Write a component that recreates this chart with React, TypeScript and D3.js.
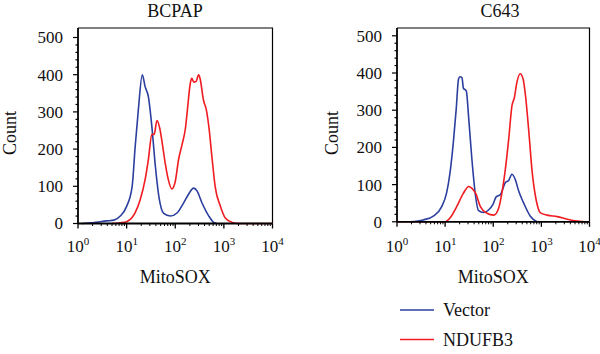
import React, { useEffect, useRef } from 'react';
import * as d3 from 'd3';

// MitoSOX intensity vs cell count
const bcpapVector: [number, number][] = [
  [1.2, 0], [2, 2], [3.9, 7], [5.5, 9], [7.4, 20], [10, 46], [13, 100], [15, 207], [17.4, 305],
  [21, 400], [24, 368], [28, 341], [33, 261], [39, 154], [46, 73], [58, 27], [79, 20],
  [110, 29], [148, 55], [186, 78], [240, 95], [282, 87], [355, 55], [490, 20], [617, 3], [710, 0],
];
const bcpapNdufb3: [number, number][] = [
  [5, 0], [7.5, 2], [10, 5], [15, 29], [19, 64], [24, 118], [28, 172], [33, 239], [37, 240],
  [42, 277], [48, 256], [54, 216], [62, 163], [72, 118], [85, 93], [100, 113], [117, 172],
  [138, 212], [162, 256], [178, 306], [204, 377], [219, 390], [240, 380], [269, 382], [302, 400],
  [324, 390], [380, 332], [437, 305], [490, 261], [575, 172], [661, 100], [851, 46], [1070, 15],
  [1480, 3], [2000, 0], [10000, 0],
];
const c643Vector: [number, number][] = [
  [1.9, 0], [3.5, 5], [5.8, 16], [8.5, 41], [10.7, 77], [12.6, 131], [14.8, 213], [17, 303],
  [19, 384], [20.4, 390], [22.4, 387], [24, 359], [27.5, 352], [31, 276], [36, 168], [43, 68],
  [49, 31], [63, 25], [79, 31], [98, 46], [115, 67], [141, 73], [178, 105], [209, 111],
  [245, 128], [288, 113], [339, 82], [427, 51], [589, 15], [813, 0],
];
const c643Ndufb3: [number, number][] = [
  [1, 0], [10, 0], [12.6, 10], [17.4, 41], [24, 77], [31, 95], [36, 90], [43, 77], [54, 41],
  [74, 23], [102, 18], [129, 36], [151, 77], [178, 140], [209, 221], [245, 312], [275, 334],
  [309, 374], [363, 398], [417, 384], [468, 339], [550, 240], [646, 132], [776, 60], [955, 24],
  [1320, 18], [2140, 14], [3470, 7], [5500, 2], [7940, 0], [10000, 0],
];

const cellLines = ['BCPAP', 'C643'];
const seriesNames = ['Vector', 'NDUFB3'];
const seriesColors = ['#2b3f9e', '#f01c22'];
const xTickExponents = [0, 1, 2, 3, 4];
const yTicks = [0, 100, 200, 300, 400, 500];

const FONT = '"Liberation Serif", "DejaVu Serif", serif';

const App = () => {
  const svgRef = useRef<SVGSVGElement>(null);

  useEffect(() => {
    const svg = d3.select(svgRef.current);
    svg.selectAll('*').remove();
    const root = svg.append('g').attr('font-family', FONT).attr('fill', '#111');

    const panels = [
      { title: cellLines[0], left: 78, right: 272.5, top: 28, bottom: 223.5, titleX: 175, countX: 10, series: [bcpapVector, bcpapNdufb3] },
      { title: cellLines[1], left: 397, right: 589.5, top: 28, bottom: 221.8, titleX: 500, countX: 332, series: [c643Vector, c643Ndufb3] },
    ];

    panels.forEach(p => {
      const x = d3.scaleLog().domain([1, 10000]).range([p.left, p.right]);
      const y = d3.scaleLinear().domain([0, 500]).range([p.bottom, p.bottom - 5 * 37.2]);
      const g = root.append('g');

      // title
      g.append('text')
        .attr('x', p.titleX).attr('y', 17)
        .attr('text-anchor', 'middle')
        .attr('font-size', 18)
        .text(p.title);

      // frame (top + right)
      g.append('path')
        .attr('d', `M${p.left},${p.top}H${p.right}V${p.bottom}`)
        .attr('fill', 'none').attr('stroke', '#000').attr('stroke-width', 1.2);

      // curves
      const line = d3.line<[number, number]>()
        .x(d => x(d[0]))
        .y(d => y(d[1]))
        .curve(d3.curveMonotoneX);
      p.series.forEach((s, i) => {
        g.append('path')
          .datum(s)
          .attr('d', line)
          .attr('fill', 'none')
          .attr('stroke', seriesColors[i])
          .attr('stroke-width', 1.6);
      });

      // y axis
      g.append('line')
        .attr('x1', p.left).attr('x2', p.left)
        .attr('y1', p.top).attr('y2', p.bottom)
        .attr('stroke', '#000').attr('stroke-width', 1.8);
      d3.range(0, 501, 20).forEach(v => {
        const major = v % 100 === 0;
        g.append('line')
          .attr('x1', p.left - (major ? 5 : 2.5)).attr('x2', p.left)
          .attr('y1', y(v)).attr('y2', y(v))
          .attr('stroke', '#000').attr('stroke-width', 1.2);
      });
      yTicks.forEach(v => {
        g.append('text')
          .attr('x', p.left - 15).attr('y', y(v))
          .attr('dy', '0.35em')
          .attr('text-anchor', 'end')
          .attr('font-size', 17)
          .text(v);
      });

      // x axis
      g.append('line')
        .attr('x1', p.left).attr('x2', p.right)
        .attr('y1', p.bottom).attr('y2', p.bottom)
        .attr('stroke', '#000').attr('stroke-width', 1.8);
      xTickExponents.forEach(e => {
        const v = Math.pow(10, e);
        g.append('line')
          .attr('x1', x(v)).attr('x2', x(v))
          .attr('y1', p.bottom).attr('y2', p.bottom + 5)
          .attr('stroke', '#000').attr('stroke-width', 1.3);
        if (e < 4) {
          d3.range(2, 10).forEach(m => {
            g.append('line')
              .attr('x1', x(m * v)).attr('x2', x(m * v))
              .attr('y1', p.bottom).attr('y2', p.bottom + 2.5)
              .attr('stroke', '#000').attr('stroke-width', 1);
          });
        }
        const t = g.append('text')
          .attr('x', x(v)).attr('y', 252)
          .attr('text-anchor', 'middle')
          .attr('font-size', 17);
        t.append('tspan').text('10');
        t.append('tspan').attr('font-size', 11).attr('dy', -7).text(String(e));
      });

      g.append('text')
        .attr('x', (p.left + p.right) / 2).attr('y', 283)
        .attr('text-anchor', 'middle')
        .attr('font-size', 18)
        .text('MitoSOX');

      g.append('text')
        .attr('transform', `translate(${p.countX + 6},133) rotate(-90)`)
        .attr('text-anchor', 'middle')
        .attr('font-size', 18)
        .text('Count');
    });

    // legend
    seriesNames.forEach((name, i) => {
      const ly = 310 + i * 29.5;
      root.append('line')
        .attr('x1', 400).attr('x2', 434)
        .attr('y1', ly).attr('y2', ly)
        .attr('stroke', seriesColors[i]).attr('stroke-width', 1.6);
      root.append('text')
        .attr('x', 443).attr('y', ly + 6)
        .attr('font-size', 18)
        .text(name);
    });
  }, []);

  return (
    <svg
      ref={svgRef}
      width={600}
      height={354}
      style={{ position: 'absolute', left: 0, top: 0, background: '#fff' }}
    />
  );
};

export default App;
